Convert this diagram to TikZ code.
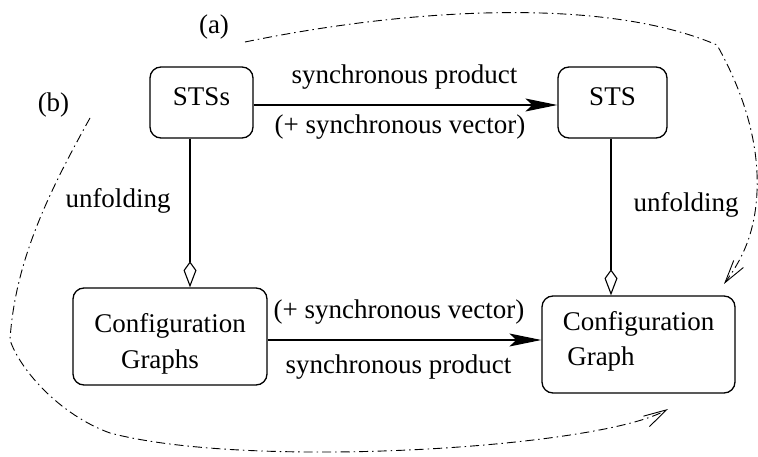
\documentclass[tikz,border=0pt]{standalone}
\usepackage{fontspec}
\setmainfont{Liberation Serif}
\usetikzlibrary{arrows.meta}
\begin{document}
\begin{tikzpicture}[x=1pt,y=-1pt,
  font=\fontsize{27}{36}\selectfont,
  box/.style={draw,line width=1.3pt,rounded corners=11pt,inner sep=0pt,text depth=0pt},
  flow/.style={line width=1.1pt,-{Stealth[length=32pt,width=13pt,inset=7pt]}},
  unfold/.style={line width=1.1pt,-{Kite[open,length=26pt,width=13pt,inset=9pt]}},
  scopeline/.style={line width=0.9pt,dash pattern=on 9pt off 4pt on 1.5pt off 4pt,
    -{Straight Barb[length=23pt,width=12pt,line width=0.9pt]}},
  lbl/.style={anchor=base,inner sep=0pt}]
\useasboundingbox (0,0) rectangle (758,457);

% the four models
\node[box,minimum width=103pt,minimum height=71pt,text height=7pt] (stss) at (201.5,102.5) {STSs};
\node[box,minimum width=109pt,minimum height=71pt,text height=7pt] (sts) at (612.5,102.5) {STS};
\node[box,minimum width=194pt,minimum height=97pt,text height=63pt] (cgs) at (170,336.5)
  {\begin{tabular}[b]{@{}c@{}}Configuration\\Graphs\hspace*{20pt}\end{tabular}};
\node[box,minimum width=193pt,minimum height=97pt,text height=41pt] (cg) at (638.5,344.5)
  {\begin{tabular}[b]{@{}l@{}}Configuration\\[-1pt]\,Graph\end{tabular}};

% products and unfoldings
\draw[flow] ([yshift=-2.5pt]stss.east) -- ([yshift=-2.5pt]stss.east -| sts.west);
\draw[flow] ([yshift=-3.5pt]cgs.east) -- ([yshift=-3.5pt]cgs.east -| cg.west);
\draw[unfold] ([xshift=-11.5pt]stss.south) -- ([xshift=-11.5pt]stss.south |- cgs.north);
\draw[unfold] ([xshift=-1.5pt]sts.south) -- ([xshift=-1.5pt]sts.south |- cg.north);

\node[lbl] (topprod) at (404.5,84) {synchronous product};
\node[lbl] (topvec) at (400,134) {(+ synchronous vector)};
\node[lbl] (leftunf) at (118,208) {unfolding};
\node[lbl] (rightunf) at (686,212) {unfolding};
\node[lbl] (botvec) at (399,318) {(+ synchronous vector)};
\node[lbl] (botprod) at (398.5,373) {synchronous product};

% the two routes
\node[lbl] (routeA) at (214,34) {(a)};
\node[lbl] (routeB) at (53.5,112) {(b)};
\coordinate (aStart) at (245,42);
\coordinate (aEnd) at (724,284);
\coordinate (bStart) at (90,118);
\coordinate (bEnd) at (668,409);
\draw[scopeline] (aStart) .. controls (400,10) and (600,-5) .. (717,45)
  .. controls (745,95) and (762,150) .. (756,205)
  .. controls (752,240) and (740,262) .. (aEnd);
\draw[scopeline] (bStart) .. controls (50,190) and (15,260) .. (10,340)
  .. controls (20,370) and (60,415) .. (110,433)
  .. controls (250,470) and (600,448) .. (bEnd);
\end{tikzpicture}
\end{document}
